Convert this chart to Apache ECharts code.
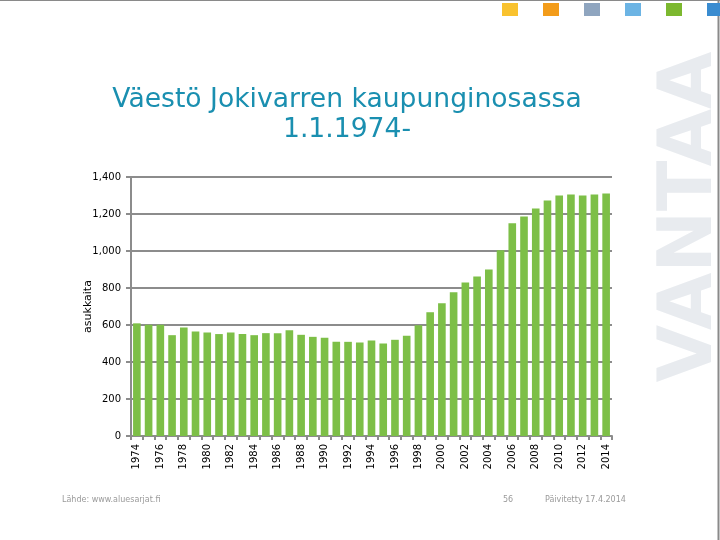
<!DOCTYPE html>
<html>
<head>
<meta charset="utf-8">
<script src="https://cdn.jsdelivr.net/npm/echarts@6/dist/echarts.min.js"></script>
<style>
html,body{margin:0;padding:0;background:#fff;}
#c{width:720px;height:540px;}
</style>
</head>
<body>
<div id="c"></div>
<script>
const years = [];
for (let y = 1974; y <= 2014; y++) years.push(String(y));
const population = [609, 602, 602, 545, 587, 565, 560, 551, 560, 551, 545, 556, 556, 571,
  547, 536, 531, 509, 509, 505, 516, 500, 520, 542, 598, 669, 718, 777,
  830, 862, 900, 1004, 1150, 1187, 1230, 1273, 1300, 1305, 1300, 1305, 1311];
const yTicks = [0, 200, 400, 600, 800, 1000, 1200, 1400];
const titleText = 'Väestö Jokivarren kaupunginosassa\n1.1.1974-';
const yAxisName = 'asukkaita';
const footerSource = 'Lähde: www.aluesarjat.fi';
const footerPage = '56';
const footerDate = 'Päivitetty 17.4.2014';
const logoColors = ['#f9c22e', '#f39c1a', '#8fa5bf', '#6cb4e4', '#7cb82f', '#3a8cd0'];

const chart = echarts.init(document.getElementById('c'));
const font = 'DejaVu Sans';
const graphics = [];
logoColors.forEach((c, i) => {
  graphics.push({type: 'rect', left: 502 + i * 41, top: 3, shape: {width: 16, height: 13}, style: {fill: c}, z: 1});
});
graphics.push({type: 'text', x: 729, y: 217, rotation: Math.PI / 2, style: {
  text: 'VANTAA', font: 'bold 74px "DejaVu Sans"', fill: '#e8ebef', textAlign: 'center', textVerticalAlign: 'bottom'}, z: 0});
graphics.push({type: 'line', shape: {x1: 0, y1: 0.5, x2: 720, y2: 0.5}, style: {stroke: '#8a8a8a', lineWidth: 1}});
graphics.push({type: 'line', shape: {x1: 718.5, y1: 0, x2: 718.5, y2: 540}, style: {stroke: '#8a8a8a', lineWidth: 2}});
graphics.push({type: 'text', left: 62, top: 496, style: {text: footerSource, font: '8px "DejaVu Sans"', fill: '#9a9a9a'}});
graphics.push({type: 'text', left: 503, top: 496, style: {text: footerPage, font: '8px "DejaVu Sans"', fill: '#9a9a9a'}});
graphics.push({type: 'text', left: 545, top: 496, style: {text: footerDate, font: '8px "DejaVu Sans"', fill: '#9a9a9a'}});

chart.setOption({
  animation: false,
  backgroundColor: '#fff',
  title: {
    text: titleText,
    left: 342, top: 80, textAlign: 'center',
    textStyle: {fontFamily: font, fontSize: 26.6, fontWeight: 'normal', color: '#1a8fb0', lineHeight: 30}
  },
  grid: {left: 131, right: 108, top: 177, bottom: 104},
  xAxis: {
    type: 'category', data: years,
    axisLine: {lineStyle: {color: '#8c8c8c', width: 2}},
    axisTick: {show: true, interval: 0, alignWithLabel: false, length: 4, lineStyle: {color: '#8c8c8c', width: 2}},
    axisLabel: {interval: 1, rotate: 90, fontFamily: font, fontSize: 10, color: '#000', margin: 8}
  },
  yAxis: {
    type: 'value', min: 0, max: 1400, interval: 200,
    name: yAxisName, nameLocation: 'middle', nameGap: 37, nameRotate: 90, nameMoveOverlap: false,
    nameTextStyle: {fontFamily: font, fontSize: 11, color: '#000'},
    axisLine: {show: true, lineStyle: {color: '#8c8c8c', width: 2}},
    axisTick: {show: true, length: 5, lineStyle: {color: '#8c8c8c', width: 2}},
    axisLabel: {fontFamily: font, fontSize: 10, color: '#000', margin: 10,
      formatter: v => yTicks.includes(v) ? v.toLocaleString('en-US') : ''},
    splitLine: {lineStyle: {color: '#8c8c8c', width: 2}}
  },
  series: [{
    type: 'bar', data: population, barCategoryGap: '35%',
    itemStyle: {color: '#7dbf47'}
  }],
  graphic: graphics
});
</script>
</body>
</html>
